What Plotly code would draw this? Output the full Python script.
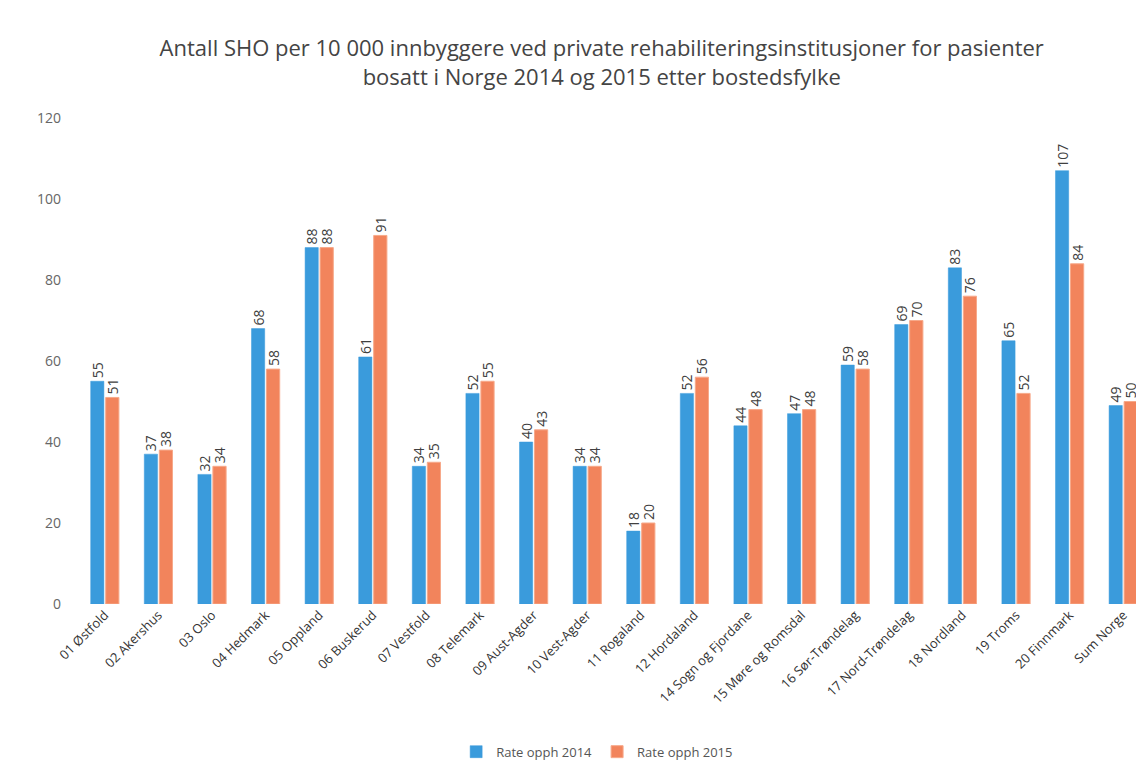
import plotly.graph_objects as go

categories = ["01 Østfold", "02 Akershus", "03 Oslo", "04 Hedmark", "05 Oppland", "06 Buskerud",
              "07 Vestfold", "08 Telemark", "09 Aust-Agder", "10 Vest-Agder", "11 Rogaland",
              "12 Hordaland", "14 Sogn og Fjordane", "15 Møre og Romsdal", "16 Sør-Trøndelag",
              "17 Nord-Trøndelag", "18 Nordland", "19 Troms", "20 Finnmark", "Sum Norge"]
rate_2014 = [55, 37, 32, 68, 88, 61, 34, 52, 40, 34, 18, 52, 44, 47, 59, 69, 83, 65, 107, 49]
rate_2015 = [51, 38, 34, 58, 88, 91, 35, 55, 43, 34, 20, 56, 48, 48, 58, 70, 76, 52, 84, 50]
y_ticks = [0, 20, 40, 60, 80, 100, 120]

font_family = "Open Sans, Liberation Sans, sans-serif"

fig = go.Figure()
fig.add_trace(go.Bar(
    x=categories, y=rate_2014, name="Rate opph 2014",
    marker=dict(color="#3A9BDC", line=dict(color="#3A9BDC", width=0.5)),
    text=[str(v) for v in rate_2014], textposition="outside", textangle=-90,
    textfont=dict(size=14, color="#404040", family=font_family),
    constraintext="none", cliponaxis=False,
))
fig.add_trace(go.Bar(
    x=categories, y=rate_2015, name="Rate opph 2015",
    marker=dict(color="#F2845C", line=dict(color="#F7A98A", width=1)),
    text=[str(v) for v in rate_2015], textposition="outside", textangle=-90,
    textfont=dict(size=14, color="#404040", family=font_family),
    constraintext="none", cliponaxis=False,
))

fig.update_layout(
    width=1144, height=761,
    paper_bgcolor="white", plot_bgcolor="white",
    margin=dict(l=70, r=2, t=110, b=165),
    barmode="group", bargap=0.44, bargroupgap=0.12,
    title=dict(
        text="Antall SHO per 10 000 innbyggere ved private rehabiliteringsinstitusjoner for pasienter<br>bosatt i Norge 2014 og 2015 etter bostedsfylke",
        x=0.519, xref="container", xanchor="center",
        y=0.937, yref="container", yanchor="top",
        font=dict(size=22, color="#444444", family=font_family),
    ),
    font=dict(family=font_family, color="#444444"),
    legend=dict(
        orientation="h", x=0.515, xanchor="center", xref="container",
        y=0.003, yanchor="bottom", yref="container",
        font=dict(size=13, color="#555555"),
    ),
)
fig.update_xaxes(
    tickangle=-45, tickfont=dict(size=13, color="#333333"),
    showgrid=False, showline=False, ticks="",
)
fig.update_yaxes(
    range=[0, 120], tickvals=y_ticks, showgrid=False, zeroline=False,
    tickfont=dict(size=14, color="#666666"), ticks="", ticklabelstandoff=16,
)

fig.write_html("out.html")
